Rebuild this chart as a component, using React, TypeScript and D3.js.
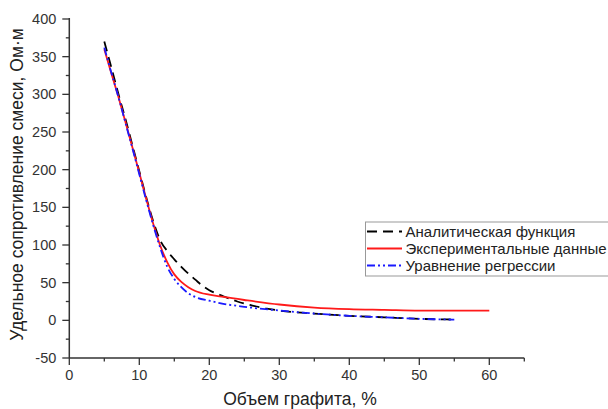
import React from "react";
import * as d3 from "d3";

const expX = [5, 6, 7, 8, 9, 10, 11, 12, 13, 14, 15, 16, 17, 18, 20, 22, 25, 30, 35, 40, 45, 50, 55, 60];
const expY = [360, 328, 297, 264, 230, 196, 161, 128, 99, 77, 61, 51, 44, 39, 34, 31, 27, 21, 17, 15, 14, 13, 13, 13];

const anaX = [5, 6, 7, 8, 9, 10, 11, 12, 13, 14, 15, 16, 17, 18, 19, 20, 22, 24, 26, 28, 30, 35, 40, 45, 50, 55];
const anaY = [370, 336, 301, 268, 233, 198, 163, 131, 106, 92, 81, 71, 62, 54, 46, 40, 32, 25, 20, 16, 13, 9, 6, 4, 2, 1];

const regX = [5, 6, 7, 8, 9, 10, 11, 12, 13, 14, 15, 16, 17, 18, 20, 22, 25, 30, 35, 40, 45, 50, 55];
const regY = [362, 329, 297, 263, 229, 194, 159, 126, 96, 71, 55, 44, 36, 31, 26, 22, 18, 13, 9, 6, 4, 2, 1];

const xMajor = [0, 10, 20, 30, 40, 50, 60];
const xMinor = [5, 15, 25, 35, 45, 55, 65];
const yMajor = [-50, 0, 50, 100, 150, 200, 250, 300, 350, 400];
const yMinor = [-25, 25, 75, 125, 175, 225, 275, 325, 375];

const legendLabels = ["Аналитическая функция", "Экспериментальные данные", "Уравнение регрессии"];
const xTitle = "Объем графита, %";
const yTitle = "Удельное сопротивление смеси, Ом·м";

export default function App() {
  const W = 608, H = 409;
  const x = d3.scaleLinear().domain([0, 65]).range([69.3, 524.3]);
  const y = d3.scaleLinear().domain([-50, 400]).range([358, 19]);
  const line = (xs: number[], ys: number[]) =>
    d3.line<number>().x((_, i) => x(xs[i])).y((d) => y(d)).curve(d3.curveMonotoneX)(ys) || "";
  const font = "Liberation Sans, Arial, sans-serif";
  const axisColor = "#333";
  const series = [
    { xs: anaX, ys: anaY, color: "#000", dash: "10,6", w: 1.8 },
    { xs: expX, ys: expY, color: "#ff1a1a", dash: "", w: 1.8 },
    { xs: regX, ys: regY, color: "#1a1aff", dash: "8,3,2,3,2,3", w: 1.8 },
  ];
  return (
    <svg width={W} height={H} style={{ position: "absolute", left: 0, top: 0, background: "#fff" }}>
      {series.map((s, i) => (
        <path key={i} d={line(s.xs, s.ys)} fill="none" stroke={s.color} strokeWidth={s.w} strokeDasharray={s.dash} />
      ))}
      <line x1={x(0)} x2={x(65)} y1={y(-50)} y2={y(-50)} stroke={axisColor} strokeWidth={1.5} />
      <line x1={x(0)} x2={x(0)} y1={y(-50)} y2={y(400) - 1} stroke={axisColor} strokeWidth={1.5} />
      {xMajor.map((v) => (
        <g key={"xm" + v}>
          <line x1={x(v)} x2={x(v)} y1={y(-50)} y2={y(-50) + 7} stroke={axisColor} strokeWidth={1.3} />
          <text x={x(v)} y={380} textAnchor="middle" fontSize={14.5} fontFamily={font} fill="#333">{v}</text>
        </g>
      ))}
      {xMinor.map((v) => (
        <line key={"xn" + v} x1={x(v)} x2={x(v)} y1={y(-50)} y2={y(-50) + 3.5} stroke={axisColor} strokeWidth={1.3} />
      ))}
      {yMajor.map((v) => (
        <g key={"ym" + v}>
          <line x1={x(0)} x2={x(0) - 7} y1={y(v)} y2={y(v)} stroke={axisColor} strokeWidth={1.3} />
          <text x={x(0) - 13} y={y(v) + 5} textAnchor="end" fontSize={14.5} fontFamily={font} fill="#333">{v}</text>
        </g>
      ))}
      {yMinor.map((v) => (
        <line key={"yn" + v} x1={x(0)} x2={x(0) - 3.5} y1={y(v)} y2={y(v)} stroke={axisColor} strokeWidth={1.3} />
      ))}
      <text x={(222 + 378) / 2} y={405} textAnchor="middle" fontSize={17.5} fontFamily={font} fill="#222">{xTitle}</text>
      <text transform={`translate(23, ${(347 + 22) / 2}) rotate(-90)`} textAnchor="middle" fontSize={17.5} fontFamily={font} fill="#222">{yTitle}</text>
      <rect x={365.5} y={222} width={260} height={54} fill="#fff" stroke="#999" strokeWidth={1} />
      {series.map((s, i) => (
        <g key={"lg" + i}>
          <line x1={367} x2={402} y1={231.5 + i * 17} y2={231.5 + i * 17} stroke={s.color} strokeWidth={s.w} strokeDasharray={s.dash} />
          <text x={405.5} y={231.5 + i * 17 + 5} fontSize={15} fontFamily={font} fill="#222">{legendLabels[i]}</text>
        </g>
      ))}
    </svg>
  );
}
